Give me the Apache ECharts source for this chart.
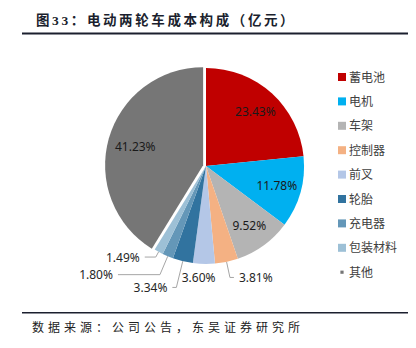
<!DOCTYPE html>
<html><head><meta charset="utf-8">
<script src="https://cdn.jsdelivr.net/npm/echarts@6/dist/echarts.min.js"></script>
<style>html,body{margin:0;padding:0;background:#fff}#c{width:416px;height:348px}</style>
</head><body><div id="c"></div>
<script>
const categories = ['蓄电池','电机','车架','控制器','前叉','轮胎','充电器','包装材料','其他'];
const values = [23.43, 11.78, 9.52, 3.81, 3.60, 3.34, 1.80, 1.49, 41.23];
const colors = ['#C00000','#00B0F0','#B4B4B4','#F4B183','#B4C7E7','#31739F','#6497B8','#9DC0D6','#767676'];
const insideSet = ['蓄电池','电机','车架','其他'];
const titleText = '图33：电动两轮车成本构成（亿元）';
const sourceText = '数据来源：公司公告，东吴证券研究所';
// leader line lengths for the small outside slices [length, length2, showLine]
const lineSpec = {
  '控制器':[16,4,true], '前叉':[14,0,false], '轮胎':[27,4,true],
  '充电器':[20,42,true], '包装材料':[6,11,true]
};

const chart = echarts.init(document.getElementById('c'), null, {renderer:'svg'});
const FONT = '"Noto Sans", "Noto Sans CJK SC", sans-serif';

const mainData = categories.map((n,i)=>{
  const inside = insideSet.indexOf(n)>=0;
  const spec = lineSpec[n] || [10,5,true];
  return {
    name:n, value:values[i],
    selected: n==='其他',
    itemStyle:{color:colors[i]},
    label:{show: !inside},
    labelLine:{show: !inside && spec[2], length:spec[0], length2:spec[1]}
  };
});
const labelData = categories.map((n,i)=>({
  name:n, value:values[i],
  itemStyle:{color:'rgba(0,0,0,0)'},
  label:{show: insideSet.indexOf(n)>=0}
}));

chart.setOption({
  animation:false,
  color: colors,
  title:{text:titleText, left:31, top:9,
    textStyle:{fontSize:13.5, fontWeight:'bold', color:'#1b1f2e', fontFamily:'"Liberation Serif","Noto Sans CJK SC",serif'}},
  legend:{
    orient:'vertical', left:333, top:66, itemWidth:8, itemHeight:8, itemGap:12.4,
    textStyle:{fontSize:12, color:'#404040', fontFamily:FONT, padding:[0,0,0,-2]},
    data: categories.map((n,i)=> n==='其他'
      ? {name:n, icon:'path://M0,0L0,0M10,10L10,10M3,3L7,3L7,7L3,7Z'}
      : {name:n, icon:'rect'}),
    selectedMode:false
  },
  graphic:[
    {type:'rect', shape:{x:22,y:32.5,width:386,height:2}, style:{fill:'#1b1f2e'}},
    {type:'rect', shape:{x:22,y:312,width:386,height:1.5}, style:{fill:'#1b1f2e'}},
    {type:'text', left:32, top:320, style:{text:sourceText, fontSize:12, fill:'#222', fontFamily:'"Noto Sans CJK SC",serif'}}
  ],
  series:[
    {
      type:'pie', center:[206,166], radius:[0,98], startAngle:90, clockwise:true,
      selectedMode:'single', selectedOffset:3,
      avoidLabelOverlap:false,
      data: mainData,
      label:{position:'outside', formatter:p=>p.value.toFixed(2)+'%', fontSize:12, color:'#262626', fontFamily:FONT},
      labelLine:{lineStyle:{color:'#A6A6A6', width:1}},
      labelLayout: function(p){
        if (p.dataIndex === 4) return {align:'center'};
      },
      emphasis:{disabled:true}
    },
    {
      type:'pie', center:[206,166], radius:[0,141], startAngle:90, clockwise:true, silent:true,
      data: labelData,
      label:{position:'inside', formatter:p=>p.value.toFixed(2)+'%', fontSize:12, color:'#1a1a1a', fontFamily:FONT,
        textBorderWidth:0, textBorderColor:'transparent'},
      labelLine:{show:false},
      emphasis:{disabled:true},
      legendHoverLink:false
    }
  ]
});

// widen character spacing of the title and source lines, as in the original
function spaceText(){
  document.querySelectorAll('#c svg text').forEach(t=>{
    const s = t.textContent;
    if (s === titleText) t.setAttribute('letter-spacing','2.6');
    else if (s === sourceText) t.setAttribute('letter-spacing','4');
  });
}
spaceText();
chart.on('finished', spaceText);
</script></body></html>
